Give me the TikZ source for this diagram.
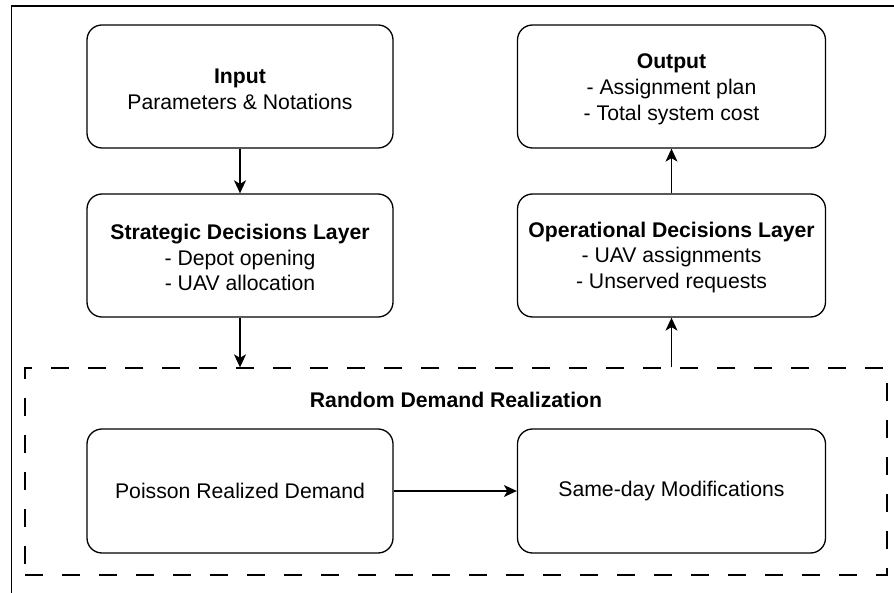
\documentclass[tikz,border=0pt]{standalone}
\usepackage{fontspec}
\setmainfont{Liberation Sans}
\usetikzlibrary{arrows.meta}
\begin{document}
\begin{tikzpicture}[x=1pt,y=-1pt,
  every node/.style={font=\fontsize{21.2}{25.9}\selectfont},
  box/.style={draw, line width=1.3pt, rounded corners=15pt, align=center, inner sep=0pt},
  boxtext/.style={align=center, inner sep=0pt},
  conn/.style={line width=1.3pt, -{Stealth[length=13pt,width=12pt,inset=3.5pt]}},
  dashbox/.style={draw, line width=1.3pt, dash pattern=on 18pt off 19pt, inner sep=0pt}]
\useasboundingbox (0,0) rectangle (894,593);
\draw[line width=1.2pt] (11.5,593) -- (11.5,6) -- (894,6);
\node[box, minimum width=306pt, minimum height=123pt] (input) at (240,86.5) {};
\node[boxtext] (inputtxt) at ([yshift=-2.5pt]input.center)
  {\textbf{Input}\\Parameters \& Notations};
\node[box, minimum width=308pt, minimum height=123pt] (output) at (671.5,86.5) {};
\node[boxtext] (outputtxt) at ([yshift=-3pt]output.center)
  {\textbf{Output}\\- Assignment plan\\- Total system cost};
\node[box, minimum width=306pt, minimum height=123pt] (strat) at (240,255.5) {};
\node[boxtext] (strattxt) at ([yshift=-2pt]strat.center)
  {\textbf{Strategic Decisions Layer}\\- Depot opening\\- UAV allocation};
\node[box, minimum width=308pt, minimum height=123pt] (oper) at (671.5,255.5) {};
\node[boxtext] (opertxt) at ([yshift=-2pt]oper.center)
  {\textbf{Operational Decisions Layer}\\- UAV assignments\\- Unserved requests};
\node[dashbox, minimum width=862pt, minimum height=207pt] (rdr) at (456,471.5) {};
\node (rdrtitle) at (456,400) {\textbf{Random Demand Realization}};
\node[box, minimum width=306pt, minimum height=124pt] (poisson) at (240,491)
  {Poisson Realized Demand};
\node[box, minimum width=308pt, minimum height=124pt] (sameday) at (671.5,491)
  {Same-day Modifications};
\draw[conn] (input.south) -- (strat.north);
\draw[conn] (strat.south) -- (strat.south |- rdr.north);
\draw[conn] (oper.south |- rdr.north) -- (oper.south);
\draw[conn] (oper.north) -- (output.south);
\draw[conn] (poisson.east) -- (sameday.west);
\end{tikzpicture}
\end{document}
